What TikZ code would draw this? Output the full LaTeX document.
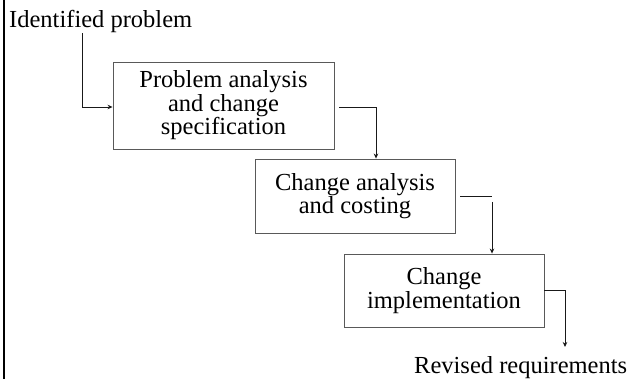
\documentclass[tikz,border=0pt]{standalone}
\usepackage{fontspec}
\setmainfont{Liberation Serif}
\usetikzlibrary{arrows.meta}
\begin{document}
\begin{tikzpicture}[x=1pt, y=-1pt,
  txt/.style={font=\fontsize{24.5}{23.5}\selectfont, inner sep=0pt},
  stage/.style={txt, draw=black!65, line width=0.9pt, align=center},
  link/.style={black!90, line width=0.8pt},
  flow/.style={link, -{Stealth[length=5pt, width=4.5pt]}}]
\useasboundingbox (0,0) rectangle (629,379);
% left rule
\draw[line width=2pt] (4,0) -- (4,379);

% process stages
\node[txt, anchor=base west] (ip) at (9,28) {Identified problem};
\node[stage, minimum width=221pt, minimum height=87pt] (b1) at (223.5,105.5)
  {Problem analysis\\and change\\specification};
\node[stage, minimum width=200pt, minimum height=74pt] (b2) at (355,196)
  {Change analysis\\and costing};
\node[stage, minimum width=200pt, minimum height=73pt] (b3) at (444,290.5)
  {Change\\implementation};
\node[txt, anchor=base west] (rr) at (414,373) {Revised requirements};

% bend points
\coordinate (k1) at (82,107);
\coordinate (k2) at (376,107);
\coordinate (k3) at (492,196);
\coordinate (k3b) at (492,202);
\coordinate (k4) at (565,290);
\coordinate (k4e) at (565,347);

% connectors
\draw[flow] (k1 |- ip.south) -- (k1) -- (b1.west |- k1);
\draw[flow] ([xshift=5pt]b1.east |- k2) -- (k2) -- (k2 |- b2.north);
\draw[link] ([xshift=5pt]b2.east) -- (k3);
\draw[flow] (k3b) -- (k3b |- b3.north);
\draw[flow] (b3.east |- k4) -- (k4) -- (k4e);
\end{tikzpicture}
\end{document}
